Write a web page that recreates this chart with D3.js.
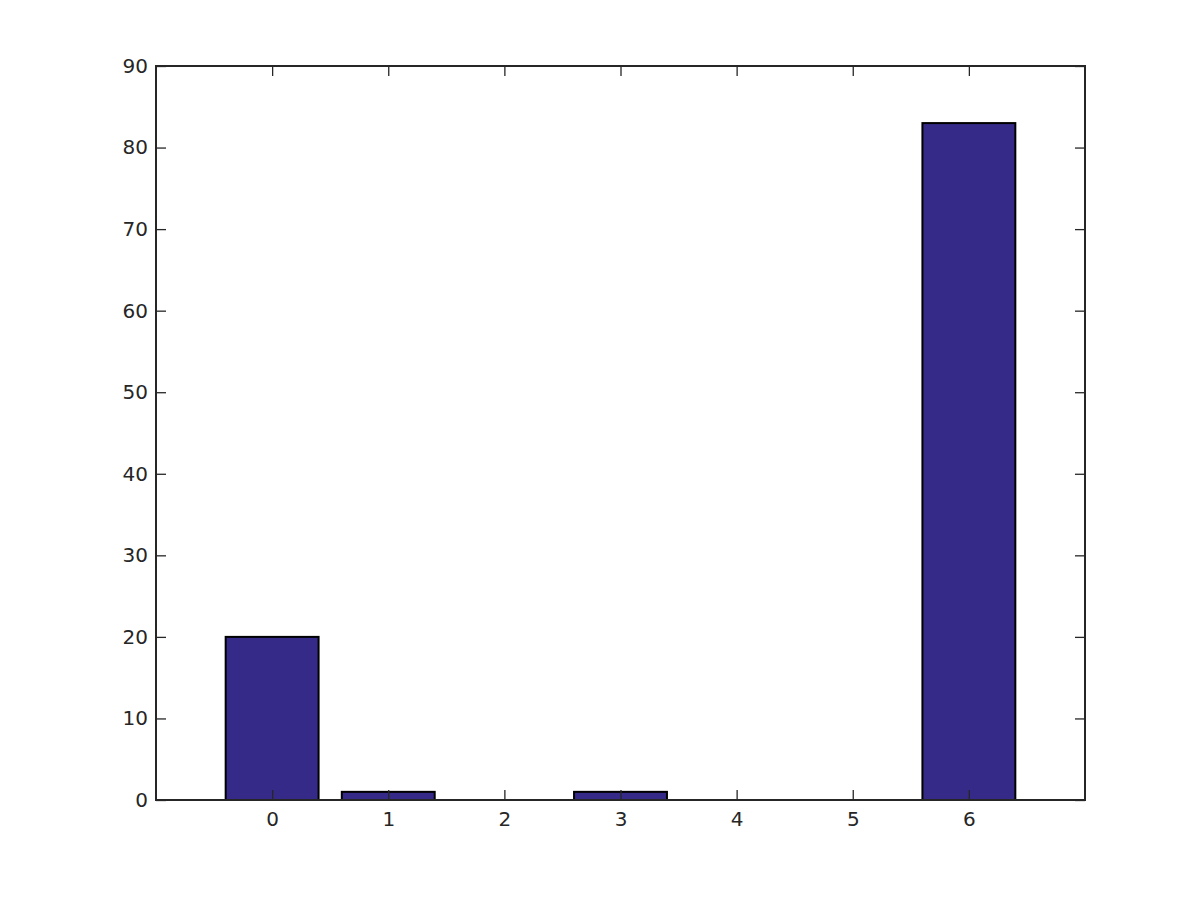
<!DOCTYPE html>
<html><head><meta charset="utf-8">
<script src="https://cdn.jsdelivr.net/npm/d3@7"></script>
<style>body{margin:0;background:#fff}svg{display:block}</style>
</head><body>
<script>
const categories = [0, 1, 2, 3, 4, 5, 6];
const values = [20, 1, 0, 1, 0, 0, 83];
const yTicks = [0, 10, 20, 30, 40, 50, 60, 70, 80, 90];

const W = 1200, H = 900;
const m = {left: 156, right: 1085, top: 66, bottom: 800};
const svg = d3.select("body").append("svg").attr("width", W).attr("height", H);
const x = d3.scaleLinear().domain([-1, 7]).range([m.left, m.right]);
const y = d3.scaleLinear().domain([0, 90]).range([m.bottom, m.top]);
const bw = (x(1) - x(0)) * 0.8;
const axisColor = "#262626";

svg.append("g").selectAll("rect").data(categories).join("rect")
  .attr("x", d => x(d) - bw / 2)
  .attr("y", (d, i) => y(values[i]))
  .attr("width", bw)
  .attr("height", (d, i) => y(0) - y(values[i]))
  .attr("fill", "#352a87").attr("stroke", "#000").attr("stroke-width", 2);

const font = "DejaVu Sans";
const styleAxis = g => {
  g.select(".domain").remove();
  g.selectAll(".tick line").attr("stroke", axisColor).attr("stroke-width", 1.3);
  g.selectAll(".tick text").attr("fill", axisColor).attr("font-family", font).attr("font-size", 20);
};

svg.append("g").attr("transform", `translate(0,${m.bottom})`)
  .call(d3.axisBottom(x).tickValues(categories).tickFormat(d3.format("d")).tickSizeInner(-10).tickSizeOuter(0).tickPadding(12))
  .call(styleAxis);
svg.append("g").attr("transform", `translate(0,${m.top})`)
  .call(d3.axisTop(x).tickValues(categories).tickFormat("").tickSizeInner(-10).tickSizeOuter(0))
  .call(styleAxis);
svg.append("g").attr("transform", `translate(${m.left},0)`)
  .call(d3.axisLeft(y).tickValues(yTicks).tickFormat(d3.format("d")).tickSizeInner(-10).tickSizeOuter(0).tickPadding(8))
  .call(styleAxis);
svg.append("g").attr("transform", `translate(${m.right},0)`)
  .call(d3.axisRight(y).tickValues(yTicks).tickFormat("").tickSizeInner(-10).tickSizeOuter(0))
  .call(styleAxis);

svg.append("rect").attr("x", m.left).attr("y", m.top)
  .attr("width", m.right - m.left).attr("height", m.bottom - m.top)
  .attr("fill", "none").attr("stroke", axisColor).attr("stroke-width", 2);
</script>
</body></html>
